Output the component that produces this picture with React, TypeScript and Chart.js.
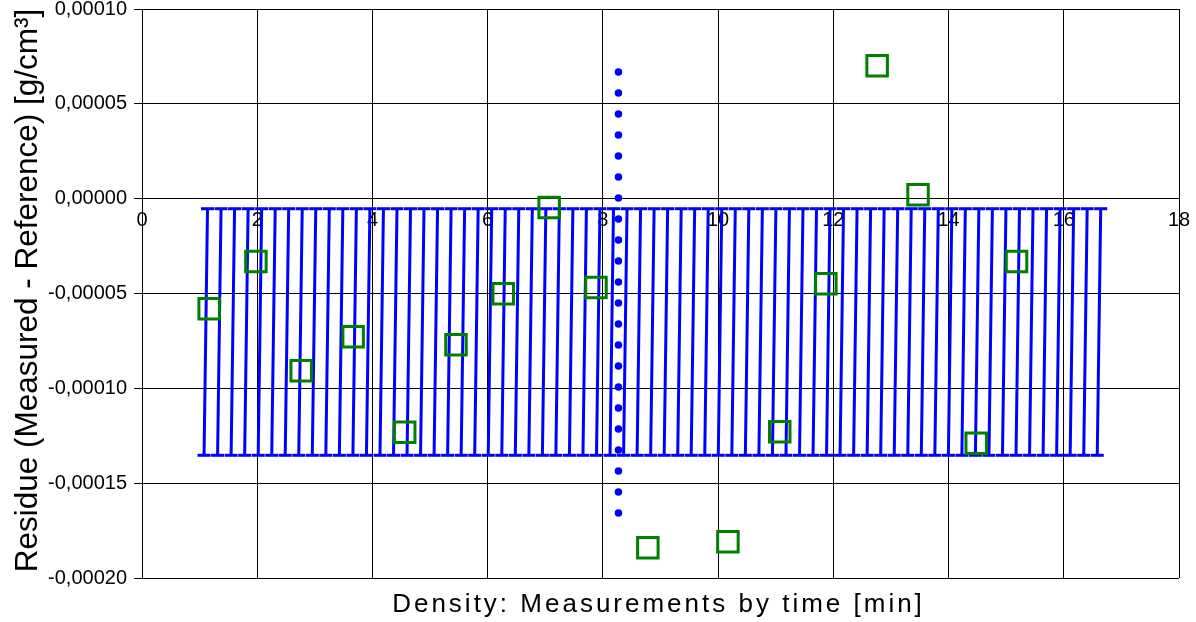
import React, { useEffect, useRef } from 'react';
import { Chart, registerables } from 'chart.js';

Chart.register(...registerables);

// ---- axis ranges ----
const X_MIN = 0;
const X_MAX = 18;
const X_STEP = 2;
const Y_MIN = -0.0002;
const Y_MAX = 0.0001;
const Y_STEP = 0.00005;

// ---- texts ----
const X_TITLE = 'Density: Measurements by time [min]';
const Y_TITLE = 'Residue (Measured - Reference) [g/cm³]';

// ---- measured residues (green squares) ----
const residueTimes = [1.166, 1.977, 2.763, 3.665, 4.56, 5.45, 6.27, 7.067, 7.88, 8.78, 10.17, 11.07, 11.87, 12.76, 13.47, 14.48, 15.18];
const residueValues = [
  -0.000058, -0.0000331, -0.0000907, -0.0000728, -0.0001231, -0.000077, -0.0000501, -0.0000047,
  -0.0000469, -0.0001841, -0.0001809, -0.0001229, -0.0000448, 0.0000701, 0.0000021, -0.0001289, -0.0000331,
];

// ---- sampling band (blue comb) ----
const sampleTimes = [
  1.137, 1.372, 1.607, 1.842, 2.077, 2.312, 2.546, 2.781, 3.016, 3.251,
  3.486, 3.721, 3.956, 4.191, 4.426, 4.661, 4.895, 5.130, 5.365, 5.600,
  5.835, 6.070, 6.305, 6.540, 6.775, 7.010, 7.244, 7.479, 7.714, 7.949,
  8.184, 8.419, 8.654, 8.889, 9.124, 9.359, 9.593, 9.828, 10.063, 10.298,
  10.533, 10.768, 11.003, 11.238, 11.473, 11.708, 11.942, 12.177, 12.412, 12.647,
  12.882, 13.117, 13.352, 13.587, 13.822, 14.057, 14.291, 14.526, 14.761, 14.996,
  15.231, 15.466, 15.701, 15.936, 16.171, 16.406, 16.641,
];
const bandUpper = -0.0000053;
const bandLower = -0.0001353;
const bandLowerTimeShift = 0.06;

// ---- dotted vertical marker ----
const markerTime = 8.27;
const markerTop = 0.0000668;
const markerBottom = -0.0001675;

const FONT = '"Liberation Sans", Arial, Helvetica, sans-serif';

const titlesPlugin = {
  id: 'axisTitlesCustom',
  afterDraw(chart: any) {
    const { ctx, chartArea } = chart;
    ctx.save();
    ctx.fillStyle = '#000';
    // x title
    ctx.font = `26px ${FONT}`;
    (ctx as any).letterSpacing = '3px';
    ctx.textAlign = 'center';
    ctx.textBaseline = 'alphabetic';
    ctx.fillText(X_TITLE, (chartArea.left + chartArea.right) / 2 - 2, chartArea.bottom + 34);
    // y title
    (ctx as any).letterSpacing = '0px';
    ctx.font = `31.5px ${FONT}`;
    ctx.translate(37, (chartArea.top + chartArea.bottom) / 2 - 3);
    ctx.rotate(-Math.PI / 2);
    ctx.fillText(Y_TITLE, 0, 0);
    ctx.restore();
  },
};

export default function App() {
  const ref = useRef<HTMLCanvasElement>(null);

  useEffect(() => {
    const squares = residueTimes.map((t, i) => ({ x: t, y: residueValues[i] }));
    const band: any[] = [];
    sampleTimes.forEach((t) => {
      band.push({ x: t, y: bandUpper });
      band.push({ x: t - bandLowerTimeShift, y: bandLower });
      band.push({ x: t, y: null });
    });
    const marker = [
      { x: markerTime, y: markerTop },
      { x: markerTime, y: markerBottom },
    ];

    const fmt = (v: any) => {
      let n = Number(v);
      if (Math.abs(n) < 1e-12) n = 0;
      return n.toFixed(5).replace('.', ',');
    };

    const chart = new Chart(ref.current!, {
      type: 'line',
      data: {
        datasets: [
          {
            label: 'Residue',
            data: squares,
            showLine: false,
            pointStyle: 'rect',
            pointRadius: 14.5,
            pointBorderWidth: 3,
            pointBorderColor: '#008000',
            pointBackgroundColor: 'rgba(0,0,0,0)',
            borderColor: '#008000',
            order: 0,
          },
          {
            label: 'Marker',
            data: marker,
            borderColor: '#0000ff',
            borderWidth: 7.5,
            borderDash: [0, 21],
            borderCapStyle: 'round',
            pointRadius: 0,
            order: 1,
          },
          {
            label: 'Band',
            data: band,
            borderColor: '#0000ff',
            borderWidth: 3,
            spanGaps: false,
            pointStyle: 'line',
            pointRadius: 6.5,
            pointBorderWidth: 3,
            pointBorderColor: '#0000ff',
            order: 2,
          },
        ],
      },
      options: {
        responsive: false,
        animation: false,
        events: [],
        layout: { autoPadding: false, padding: { left: 0, right: 17, top: 9, bottom: 0 } },
        elements: { line: { tension: 0 } },
        plugins: {
          legend: { display: false },
          tooltip: { enabled: false },
        },
        scales: {
          x: {
            type: 'linear',
            position: 'bottom',
            min: X_MIN,
            max: X_MAX,
            ticks: { stepSize: X_STEP, display: false },
            grid: { color: '#000', lineWidth: 1, drawTicks: false },
            border: { display: false },
            afterFit: (s: any) => {
              s.height = 44;
              s.paddingLeft = 0;
              s.paddingRight = 0;
            },
          },
          x2: {
            type: 'linear',
            position: { y: 0 } as any,
            min: X_MIN,
            max: X_MAX,
            ticks: {
              stepSize: X_STEP,
              padding: 10,
              color: '#000',
              font: { family: FONT, size: 20 },
              maxRotation: 0,
              autoSkip: false,
            },
            grid: { display: false, drawTicks: false },
            border: { display: false },
            afterFit: (s: any) => {
              s.paddingLeft = 0;
              s.paddingRight = 0;
            },
          },
          y: {
            type: 'linear',
            position: 'left',
            min: Y_MIN,
            max: Y_MAX,
            ticks: {
              stepSize: Y_STEP,
              padding: 7,
              color: '#000',
              font: { family: FONT, size: 20, lineHeight: 0.1 },
              callback: fmt,
            },
            grid: { color: '#000', lineWidth: 1, tickLength: 8, drawTicks: true },
            border: { display: true, color: '#000' },
            afterFit: (s: any) => {
              s.width = 142;
              s.paddingTop = 0;
              s.paddingBottom = 0;
            },
          },
        },
      },
      plugins: [titlesPlugin],
    } as any);

    return () => chart.destroy();
  }, []);

  return (
    <div style={{ position: 'fixed', left: 0, top: 0, width: 1196, height: 622, background: '#fff' }}>
      <canvas ref={ref} width={1196} height={622} style={{ display: 'block' }} />
    </div>
  );
}
